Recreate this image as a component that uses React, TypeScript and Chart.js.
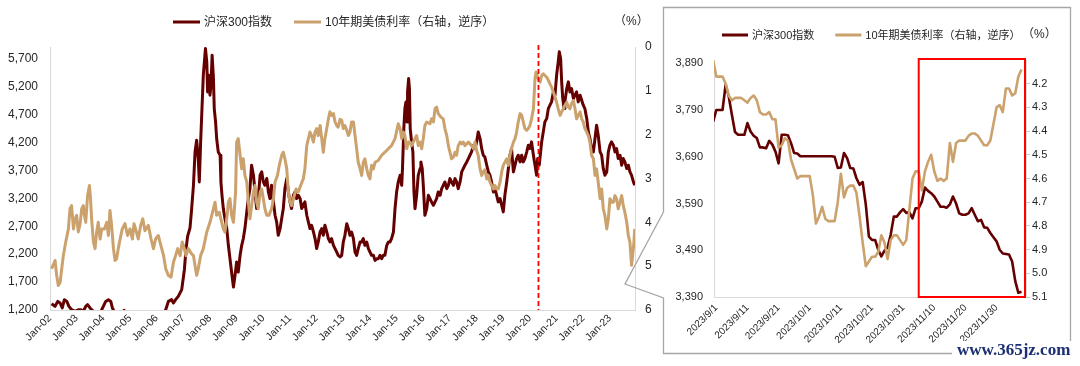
import { useEffect, useRef } from 'react';
import { Chart, registerables } from 'chart.js';

Chart.register(...registerables);

// ---------------- long view (2002 - 2023), x = decimal year ----------------
const csiYears = [
  2002.06, 2002.19, 2002.29, 2002.38, 2002.46, 2002.54, 2002.63, 2002.71, 2002.81, 2002.94,
  2003.06, 2003.16, 2003.25, 2003.34, 2003.41, 2003.5, 2003.63, 2003.75, 2003.88, 2004.0,
  2004.09, 2004.19, 2004.28, 2004.34, 2004.44, 2004.56, 2004.7, 2004.78, 2004.86, 2005.2,
  2005.6, 2006.0, 2006.25, 2006.34, 2006.44, 2006.56, 2006.63, 2006.71, 2006.81, 2006.94,
  2007.04, 2007.1, 2007.16, 2007.25, 2007.31, 2007.38, 2007.44, 2007.5, 2007.56, 2007.6,
  2007.65, 2007.7, 2007.75, 2007.79, 2007.83, 2007.88, 2007.91, 2007.96, 2008.0, 2008.04,
  2008.08, 2008.13, 2008.16, 2008.21, 2008.25, 2008.31, 2008.38, 2008.41, 2008.45, 2008.5,
  2008.56, 2008.63, 2008.69, 2008.75, 2008.81, 2008.88, 2008.94, 2009.0, 2009.06, 2009.13,
  2009.19, 2009.25, 2009.31, 2009.38, 2009.44, 2009.5, 2009.56, 2009.63, 2009.69, 2009.75,
  2009.81, 2009.88, 2009.94, 2010.0, 2010.06, 2010.13, 2010.19, 2010.25, 2010.31, 2010.38,
  2010.44, 2010.5, 2010.56, 2010.63, 2010.69, 2010.75, 2010.81, 2010.88, 2010.94, 2011.0,
  2011.06, 2011.13, 2011.19, 2011.25, 2011.31, 2011.38, 2011.44, 2011.5, 2011.56, 2011.63,
  2011.69, 2011.75, 2011.81, 2011.88, 2011.94, 2012.0, 2012.06, 2012.13, 2012.19, 2012.25,
  2012.31, 2012.38, 2012.44, 2012.5, 2012.56, 2012.63, 2012.69, 2012.75, 2012.81, 2012.88,
  2012.94, 2013.0, 2013.06, 2013.13, 2013.19, 2013.25, 2013.31, 2013.38, 2013.44, 2013.5,
  2013.56, 2013.63, 2013.69, 2013.75, 2013.81, 2013.88, 2013.94, 2014.0, 2014.06, 2014.13,
  2014.19, 2014.25, 2014.31, 2014.38, 2014.44, 2014.5, 2014.56, 2014.63, 2014.69, 2014.75,
  2014.81, 2014.88, 2014.94, 2015.0, 2015.06, 2015.13, 2015.19, 2015.22, 2015.27, 2015.31,
  2015.35, 2015.39, 2015.41, 2015.45, 2015.48, 2015.51, 2015.56, 2015.61, 2015.65, 2015.69,
  2015.75, 2015.81, 2015.88, 2015.91, 2015.96, 2016.0, 2016.06, 2016.13, 2016.19, 2016.25,
  2016.31, 2016.38, 2016.44, 2016.5, 2016.56, 2016.63, 2016.69, 2016.75, 2016.81, 2016.88,
  2016.94, 2017.0, 2017.06, 2017.13, 2017.19, 2017.25, 2017.31, 2017.38, 2017.44, 2017.5,
  2017.56, 2017.63, 2017.69, 2017.75, 2017.81, 2017.88, 2017.94, 2018.0, 2018.06, 2018.13,
  2018.19, 2018.25, 2018.31, 2018.38, 2018.44, 2018.5, 2018.56, 2018.63, 2018.69, 2018.75,
  2018.81, 2018.88, 2018.94, 2019.0, 2019.06, 2019.13, 2019.19, 2019.25, 2019.31, 2019.38,
  2019.44, 2019.5, 2019.56, 2019.63, 2019.69, 2019.75, 2019.81, 2019.88, 2019.94, 2020.0,
  2020.06, 2020.13, 2020.19, 2020.25, 2020.29, 2020.35, 2020.4, 2020.44, 2020.5, 2020.56,
  2020.63, 2020.69, 2020.75, 2020.81, 2020.88, 2020.94, 2021.0, 2021.06, 2021.1, 2021.15,
  2021.19, 2021.23, 2021.28, 2021.31, 2021.38, 2021.44, 2021.5, 2021.56, 2021.63, 2021.69,
  2021.75, 2021.81, 2021.88, 2021.94, 2022.0, 2022.06, 2022.13, 2022.19, 2022.25, 2022.31,
  2022.38, 2022.44, 2022.5, 2022.56, 2022.63, 2022.69, 2022.75, 2022.81, 2022.88, 2022.94,
  2023.0, 2023.06, 2023.13, 2023.19, 2023.25, 2023.31, 2023.38, 2023.44, 2023.5, 2023.56,
  2023.63, 2023.69, 2023.75, 2023.81, 2023.88, 2023.93,
];
const csiValues = [
  1313, 1265, 1354, 1325, 1236, 1385, 1354, 1265, 1205, 1176,
  1205, 1205, 1176, 1265, 1295, 1236, 1176, 1116, 1146, 1265,
  1354, 1385, 1354, 1236, 1146, 1026, 1100, 1195, 1080, 950,
  880, 960, 1120, 1205, 1354, 1385, 1325, 1385, 1444, 1564,
  1922, 2280, 2519, 2668, 2997, 3434, 4031, 4241, 3912, 3494,
  4211, 4808, 5405, 5644, 5883, 5644, 5106, 5405, 5047, 5226,
  5764, 5346, 4808, 4569, 4271, 4031, 3972, 3494, 3255, 3016,
  2837, 2658, 2359, 2120, 1881, 1612, 1822, 2060, 1881, 2180,
  2359, 2479, 2658, 2957, 3196, 3375, 3793, 3614, 3315, 3016,
  3196, 3614, 3674, 3494, 3434, 3554, 3315, 3196, 3434, 3136,
  2897, 2778, 2539, 2658, 2837, 3016, 3375, 3554, 3315, 3136,
  3016, 3255, 3315, 3196, 3255, 3196, 3016, 3076, 3136, 2897,
  2778, 2658, 2718, 2599, 2479, 2300, 2419, 2599, 2658, 2539,
  2718, 2599, 2479, 2419, 2479, 2359, 2300, 2240, 2180, 2150,
  2179, 2418, 2537, 2746, 2657, 2537, 2597, 2478, 2239, 2179,
  2298, 2418, 2418, 2478, 2358, 2418, 2298, 2239, 2179, 2179,
  2089, 2119, 2119, 2179, 2119, 2179, 2179, 2358, 2418, 2418,
  2478, 2597, 3015, 3314, 3493, 3612, 3433, 3732, 4449, 4807,
  4926, 4568, 5106, 5345, 5166, 4449, 4210, 4031, 3314, 3015,
  3254, 3612, 3732, 3851, 3732, 3433, 2896, 3015, 3254, 3194,
  3135, 3075, 3135, 3194, 3314, 3254, 3373, 3433, 3493, 3373,
  3433, 3553, 3493, 3433, 3553, 3493, 3373, 3493, 3672, 3732,
  3792, 3851, 3911, 3971, 4031, 4150, 4090, 4210, 4389, 4270,
  4090, 3971, 3940, 3793, 3673, 3614, 3494, 3315, 3375, 3255,
  3136, 3195, 3076, 2957, 3255, 3494, 3733, 3972, 4092, 3673,
  3793, 3912, 3972, 3853, 3972, 3853, 3912, 4032, 4151, 4092,
  4211, 3972, 3793, 3614, 3912, 3793, 4032, 4211, 4390, 4569,
  4629, 4808, 4868, 4927, 5106, 5047, 5405, 5644, 5823, 5704,
  5286, 4987, 4808, 4927, 5166, 5286, 5106, 5166, 4987, 5047,
  5106, 4927, 5047, 4957, 4868, 4808, 4629, 4390, 4271, 4092,
  4032, 4271, 4510, 4330, 4032, 3972, 3733, 3614, 3673, 4032,
  4151, 4211, 4151, 4032, 4092, 3912, 3972, 3793, 3912, 3853,
  3733, 3793, 3673, 3614, 3494, 3434,
];

const ustYears = [
  2002.06, 2002.19, 2002.25, 2002.31, 2002.38, 2002.44, 2002.5, 2002.59, 2002.69, 2002.75,
  2002.81, 2002.88, 2002.94, 2003.0, 2003.06, 2003.13, 2003.19, 2003.25, 2003.29, 2003.34,
  2003.41, 2003.48, 2003.52, 2003.56, 2003.63, 2003.69, 2003.75, 2003.81, 2003.88, 2003.94,
  2004.04, 2004.13, 2004.19, 2004.25, 2004.31, 2004.38, 2004.44, 2004.5, 2004.56, 2004.63,
  2004.71, 2004.81, 2004.91, 2005.0, 2005.09, 2005.15, 2005.21, 2005.31, 2005.4, 2005.48,
  2005.56, 2005.69, 2005.79, 2005.88, 2005.96, 2006.06, 2006.16, 2006.26, 2006.34, 2006.44,
  2006.54, 2006.63, 2006.71, 2006.79, 2006.88, 2006.96, 2007.04, 2007.1, 2007.19, 2007.31,
  2007.38, 2007.5, 2007.56, 2007.65, 2007.75, 2007.88, 2008.0, 2008.13, 2008.19, 2008.25,
  2008.35, 2008.44, 2008.5, 2008.56, 2008.63, 2008.69, 2008.75, 2008.81, 2008.88, 2008.96,
  2009.0, 2009.06, 2009.13, 2009.19, 2009.25, 2009.31, 2009.38, 2009.44, 2009.5, 2009.56,
  2009.63, 2009.69, 2009.75, 2009.81, 2009.88, 2009.94, 2010.0, 2010.06, 2010.13, 2010.21,
  2010.31, 2010.38, 2010.44, 2010.53, 2010.6, 2010.69, 2010.75, 2010.81, 2010.88, 2010.94,
  2011.0, 2011.06, 2011.13, 2011.23, 2011.31, 2011.4, 2011.5, 2011.56, 2011.63, 2011.69,
  2011.75, 2011.81, 2011.88, 2011.94, 2012.0, 2012.06, 2012.13, 2012.19, 2012.25, 2012.31,
  2012.38, 2012.44, 2012.5, 2012.56, 2012.63, 2012.69, 2012.75, 2012.81, 2012.88, 2012.94,
  2013.0, 2013.06, 2013.13, 2013.19, 2013.25, 2013.31, 2013.38, 2013.44, 2013.5, 2013.56,
  2013.63, 2013.69, 2013.75, 2013.81, 2013.88, 2013.94, 2014.0, 2014.06, 2014.13, 2014.19,
  2014.31, 2014.44, 2014.56, 2014.69, 2014.81, 2014.94, 2015.06, 2015.13, 2015.19, 2015.25,
  2015.31, 2015.38, 2015.44, 2015.5, 2015.56, 2015.69, 2015.75, 2015.81, 2015.88, 2015.94,
  2016.0, 2016.06, 2016.13, 2016.25, 2016.31, 2016.38, 2016.44, 2016.5, 2016.56, 2016.66,
  2016.75, 2016.81, 2016.88, 2016.94, 2017.0, 2017.06, 2017.13, 2017.19, 2017.25, 2017.31,
  2017.38, 2017.44, 2017.5, 2017.56, 2017.69, 2017.81, 2017.88, 2017.94, 2018.0, 2018.06,
  2018.13, 2018.19, 2018.25, 2018.31, 2018.38, 2018.44, 2018.5, 2018.63, 2018.69, 2018.75,
  2018.81, 2018.88, 2018.94, 2019.0, 2019.06, 2019.13, 2019.19, 2019.25, 2019.31, 2019.38,
  2019.44, 2019.5, 2019.56, 2019.63, 2019.69, 2019.75, 2019.81, 2019.88, 2019.94, 2020.0,
  2020.06, 2020.13, 2020.19, 2020.23, 2020.31, 2020.38, 2020.44, 2020.5, 2020.56, 2020.63,
  2020.69, 2020.75, 2020.81, 2020.88, 2020.94, 2021.0, 2021.06, 2021.13, 2021.19, 2021.25,
  2021.31, 2021.38, 2021.44, 2021.5, 2021.56, 2021.63, 2021.69, 2021.75, 2021.81, 2021.88,
  2021.94, 2022.0, 2022.06, 2022.13, 2022.19, 2022.25, 2022.31, 2022.38, 2022.44, 2022.5,
  2022.56, 2022.63, 2022.69, 2022.75, 2022.81, 2022.88, 2022.94, 2023.0, 2023.06, 2023.13,
  2023.19, 2023.25, 2023.31, 2023.38, 2023.44, 2023.5, 2023.56, 2023.63, 2023.69, 2023.75,
  2023.81, 2023.85, 2023.9, 2023.93,
];
const ustValues = [
  5.06, 4.87, 5.21, 5.44, 5.37, 5.06, 4.76, 4.45, 4.15, 3.69,
  3.62, 4.15, 3.92, 3.84, 4.22, 4.03, 3.69, 3.62, 3.84, 4.0,
  3.39, 3.16, 3.46, 3.92, 4.45, 4.6, 4.22, 4.0, 4.38, 4.15,
  4.15, 4.0, 4.3, 3.73, 4.07, 4.6, 4.87, 4.83, 4.6, 4.38,
  4.15, 4.03, 4.3, 4.15, 4.38, 4.03, 4.15, 4.38, 4.07, 3.92,
  4.19, 4.07, 4.38, 4.6, 4.38, 4.3, 4.53, 4.76, 5.06, 5.21,
  5.25, 4.91, 4.76, 4.6, 4.76, 4.45, 4.6, 4.76, 4.6, 4.72,
  4.76, 5.21, 5.06, 4.76, 4.6, 4.22, 4.0, 3.69, 3.54, 3.84,
  3.77, 4.0, 4.15, 4.22, 3.92, 3.54, 3.46, 3.84, 4.0, 3.31,
  2.17, 2.09, 2.47, 2.78, 2.55, 2.93, 3.08, 3.54, 3.92, 3.62,
  3.31, 3.16, 3.54, 3.69, 3.31, 3.24, 3.46, 3.69, 3.84, 3.84,
  3.69, 3.46, 3.08, 2.93, 2.7, 2.47, 2.4, 2.55, 2.78, 3.31,
  3.54, 3.62, 3.46, 3.24, 3.31, 3.16, 3.01, 2.78, 2.25, 2.09,
  1.94, 2.02, 2.17, 1.94, 1.86, 2.02, 1.79, 2.09, 2.4, 2.09,
  1.86, 1.64, 1.48, 1.56, 1.52, 1.71, 1.79, 1.83, 1.65, 1.67,
  1.86, 1.79, 1.9, 2.02, 1.94, 1.71, 1.71, 2.02, 2.32, 2.63,
  2.78, 2.93, 2.63, 2.55, 2.78, 2.93, 3.01, 2.7, 2.78, 2.63,
  2.59, 2.47, 2.4, 2.32, 2.25, 2.09, 1.75, 1.86, 2.09, 1.94,
  2.02, 2.32, 2.17, 2.17, 2.25, 2.09, 2.02, 2.25, 2.17, 2.32,
  2.09, 1.79, 1.71, 1.75, 1.64, 1.71, 1.41, 1.37, 1.52, 1.6,
  1.64, 1.86, 2.02, 2.25, 2.4, 2.55, 2.51, 2.4, 2.47, 2.25,
  2.17, 2.21, 2.17, 2.25, 2.17, 2.25, 2.32, 2.17, 2.36, 2.47,
  2.78, 2.93, 2.85, 2.8, 3.01, 2.93, 3.08, 3.24, 3.16, 3.24,
  3.24, 3.08, 2.85, 2.7, 2.63, 2.55, 2.7, 2.47, 2.32, 2.17,
  2.09, 1.94, 1.71, 1.52, 1.56, 1.71, 1.86, 1.9, 1.86, 1.79,
  1.64, 1.41, 0.72, 0.57, 0.72, 0.8, 0.65, 0.61, 0.65, 0.69,
  0.76, 0.84, 0.91, 1.03, 1.14, 1.26, 1.41, 1.56, 1.48, 1.41,
  1.33, 1.26, 1.37, 1.41, 1.29, 1.22, 1.41, 1.64, 1.56, 1.48,
  1.64, 1.71, 1.86, 1.94, 2.02, 2.17, 2.47, 2.55, 2.93, 2.78,
  3.08, 3.46, 3.24, 3.69, 3.84, 4.15, 3.92, 3.46, 3.54, 3.54,
  3.39, 3.46, 3.69, 3.54, 3.39, 3.62, 3.77, 4.0, 4.3, 4.45,
  4.98, 4.76, 4.45, 4.15,
];

const yearTicks = [
  2002, 2003, 2004, 2005, 2006, 2007, 2008, 2009, 2010, 2011, 2012,
  2013, 2014, 2015, 2016, 2017, 2018, 2019, 2020, 2021, 2022, 2023,
];
const yearTickLabels = [
  'Jan-02', 'Jan-03', 'Jan-04', 'Jan-05', 'Jan-06', 'Jan-07', 'Jan-08', 'Jan-09', 'Jan-10', 'Jan-11', 'Jan-12',
  'Jan-13', 'Jan-14', 'Jan-15', 'Jan-16', 'Jan-17', 'Jan-18', 'Jan-19', 'Jan-20', 'Jan-21', 'Jan-22', 'Jan-23',
];
const csiAxisTicks = [1200, 1700, 2200, 2700, 3200, 3700, 4200, 4700, 5200, 5700];
const ustAxisTicks = [0, 1, 2, 3, 4, 5, 6];
const markerYear = 2020.32;

// ---------------- zoom view (2023-08-31 .. 2023-12-08), daily ----------------
const zoomFirstDay = -1; // day 0 = 2023/9/1
const zoomCsi = [
  3765, 3790, 3790, 3790, 3844, 3819, 3780, 3743, 3737, 3737,
  3737, 3762, 3744, 3735, 3730, 3710, 3710, 3708, 3724, 3716,
  3701, 3676, 3737, 3737, 3736, 3719, 3698, 3697, 3691, 3691,
  3691, 3691, 3691, 3691, 3691, 3691, 3691, 3691, 3691, 3690,
  3666, 3667, 3698, 3687, 3666, 3665, 3644, 3630, 3636, 3588,
  3519, 3512, 3512, 3491, 3477, 3489, 3496, 3523, 3562, 3562,
  3571, 3578, 3570, 3571, 3558, 3580, 3580, 3594, 3624, 3617,
  3612, 3605, 3594, 3583, 3583, 3581, 3588, 3605, 3590, 3569,
  3566, 3566, 3569, 3580, 3566, 3552, 3555, 3539, 3538, 3527,
  3518, 3509, 3491, 3483, 3482, 3481, 3466, 3424, 3399, 3401,
];
const zoomUst = [
  4.10, 4.17, 4.17, 4.17, 4.20, 4.25, 4.27, 4.26, 4.26, 4.26,
  4.27, 4.28, 4.26, 4.25, 4.27, 4.32, 4.33, 4.33, 4.32, 4.35,
  4.35, 4.47, 4.46, 4.43, 4.44, 4.52, 4.56, 4.60, 4.59, 4.59,
  4.59, 4.59, 4.67, 4.79, 4.76, 4.72, 4.77, 4.78, 4.78, 4.78,
  4.70, 4.58, 4.68, 4.64, 4.63, 4.63, 4.66, 4.76, 4.87, 4.97,
  4.95, 4.93, 4.93, 4.91, 4.84, 4.87, 4.94, 4.86, 4.84, 4.84,
  4.86, 4.88, 4.86, 4.73, 4.60, 4.57, 4.57, 4.65, 4.57, 4.53,
  4.50, 4.57, 4.61, 4.60, 4.61, 4.60, 4.45, 4.53, 4.45, 4.44,
  4.44, 4.44, 4.42, 4.41, 4.41, 4.42, 4.44, 4.46, 4.46, 4.44,
  4.37, 4.30, 4.29, 4.32, 4.22, 4.22, 4.25, 4.24, 4.17, 4.14,
];
const zoomDayTicks = [0, 10, 20, 30, 40, 50, 60, 70, 80, 90];
const zoomDayTickLabels = [
  '2023/9/1', '2023/9/11', '2023/9/21', '2023/10/1', '2023/10/11',
  '2023/10/21', '2023/10/31', '2023/11/10', '2023/11/20', '2023/11/30',
];
const zoomCsiTicks = [3390, 3490, 3590, 3690, 3790, 3890];
const zoomUstTicks = [4.2, 4.3, 4.4, 4.5, 4.6, 4.7, 4.8, 4.9, 5.0, 5.1];
const zoomHighlightStartDay = 65;

const seriesNames = ['沪深300指数', '10年期美债利率（右轴，逆序）'];
const unitLabel = '（%）';

// ---------------- styling ----------------
const DARK = '#640000';
const TAN = '#CBA26D';
const AXIS_LINE = '#d9d9d9';
const TEXT = '#262626';
const FONT = '"Liberation Sans", Arial, "Noto Sans CJK SC", sans-serif';

const legendPlugin = {
  id: 'lineLegend',
  afterDraw(chart: any, _args: any, opts: any) {
    const ctx = chart.ctx;
    ctx.save();
    ctx.font = `${opts.size}px ${FONT}`;
    ctx.textBaseline = 'middle';
    ctx.textAlign = 'left';
    let x = opts.x;
    chart.data.datasets.forEach((ds: any) => {
      ctx.fillStyle = ds.borderColor;
      ctx.fillRect(x, opts.y - opts.lineWidth / 2, opts.boxWidth, opts.lineWidth);
      x += opts.boxWidth + opts.gap;
      ctx.fillStyle = TEXT;
      ctx.fillText(ds.label, x, opts.y + 0.5);
      x += ctx.measureText(ds.label).width + opts.itemGap;
    });
    ctx.fillStyle = TEXT;
    ctx.font = `${opts.unitSize}px ${FONT}`;
    ctx.fillText(unitLabel, opts.unitX, opts.unitY);
    ctx.restore();
  },
};

const markerPlugin = {
  id: 'yearMarker',
  afterDatasetsDraw(chart: any, _args: any, opts: any) {
    if (opts.value === undefined || opts.value === null) return;
    const ctx = chart.ctx;
    const x = chart.scales.x.getPixelForValue(opts.value);
    const { top, bottom } = chart.chartArea;
    ctx.save();
    ctx.strokeStyle = '#FF0000';
    ctx.lineWidth = 1.8;
    ctx.setLineDash([5, 3]);
    ctx.beginPath();
    ctx.moveTo(x, top - 2);
    ctx.lineTo(x, bottom);
    ctx.stroke();
    ctx.restore();
  },
};

const highlightPlugin = {
  id: 'highlightBox',
  afterDatasetsDraw(chart: any, _args: any, opts: any) {
    if (opts.startDay === undefined || opts.startDay === null) return;
    const ctx = chart.ctx;
    const x0 = chart.scales.x.getPixelForValue(opts.startDay);
    const { top, bottom, right } = chart.chartArea;
    ctx.save();
    ctx.strokeStyle = '#FF0000';
    ctx.lineWidth = 2;
    ctx.strokeRect(x0, top - 1, right - 1 - x0, bottom - top + 1);
    ctx.restore();
  },
};

function tickFont(size: number) {
  return { family: FONT, size };
}

function LongChart() {
  const ref = useRef<HTMLCanvasElement>(null);
  useEffect(() => {
    const chart = new Chart(ref.current as HTMLCanvasElement, {
      type: 'line',
      data: {
        datasets: [
          {
            label: seriesNames[0],
            data: csiYears.map((t, i) => ({ x: t, y: csiValues[i] })),
            borderColor: DARK,
            backgroundColor: DARK,
            borderWidth: 3,
            pointRadius: 0,
            tension: 0,
            borderJoinStyle: 'round',
            yAxisID: 'y',
            order: 1,
          },
          {
            label: seriesNames[1],
            data: ustYears.map((t, i) => ({ x: t, y: ustValues[i] })),
            borderColor: TAN,
            backgroundColor: TAN,
            borderWidth: 3,
            pointRadius: 0,
            tension: 0,
            borderJoinStyle: 'round',
            yAxisID: 'y1',
            order: 0,
          },
        ],
      },
      options: {
        animation: false,
        responsive: false,
        maintainAspectRatio: false,
        devicePixelRatio: 1,
        layout: { padding: { top: 47, left: 0, right: 0, bottom: 0 } },
        plugins: {
          legend: { display: false },
          tooltip: { enabled: false },
          lineLegend: {
            x: 173, y: 22, boxWidth: 27, lineWidth: 3, gap: 4, itemGap: 22, size: 12,
            unitX: 614, unitY: 22, unitSize: 12,
          },
          yearMarker: { value: markerYear },
        },
        scales: {
          x: {
            type: 'linear',
            min: 2002,
            max: 2023.94,
            afterBuildTicks: (axis: any) => {
              axis.ticks = yearTicks.map((v) => ({ value: v }));
            },
            afterFit: (axis: any) => {
              axis.height = 56;
            },
            ticks: {
              autoSkip: false,
              minRotation: 45,
              maxRotation: 45,
              padding: 2,
              color: TEXT,
              font: tickFont(10.5),
              callback: (_v: any, i: number) => yearTickLabels[i],
            },
            grid: { display: false, drawTicks: false },
            border: { color: AXIS_LINE, width: 1 },
          },
          y: {
            position: 'left',
            min: 1200,
            max: 5910,
            afterBuildTicks: (axis: any) => {
              axis.ticks = csiAxisTicks.map((v) => ({ value: v }));
            },
            afterFit: (axis: any) => {
              axis.width = 50;
            },
            ticks: {
              padding: 12,
              color: TEXT,
              font: tickFont(12),
              callback: (v: any) => Number(v).toLocaleString('en-US'),
            },
            grid: { display: false, drawTicks: false },
            border: { color: AXIS_LINE, width: 1 },
          },
          y1: {
            position: 'right',
            reverse: true,
            min: 0,
            max: 6,
            afterBuildTicks: (axis: any) => {
              axis.ticks = ustAxisTicks.map((v) => ({ value: v }));
            },
            afterFit: (axis: any) => {
              axis.width = 25;
            },
            ticks: {
              padding: 10,
              color: TEXT,
              font: tickFont(12),
              callback: (v: any) => String(v),
            },
            grid: { display: false, drawTicks: false },
            border: { color: AXIS_LINE, width: 1 },
          },
        },
      },
      plugins: [legendPlugin, markerPlugin],
    } as any);
    return () => chart.destroy();
  }, []);
  return (
    <canvas
      ref={ref}
      width={660}
      height={366}
      style={{ position: 'absolute', left: 0, top: 0, width: 660, height: 366 }}
    />
  );
}

function ZoomChart() {
  const ref = useRef<HTMLCanvasElement>(null);
  useEffect(() => {
    const chart = new Chart(ref.current as HTMLCanvasElement, {
      type: 'line',
      data: {
        datasets: [
          {
            label: seriesNames[0],
            data: zoomCsi.map((v, i) => ({ x: zoomFirstDay + i, y: v })),
            borderColor: DARK,
            backgroundColor: DARK,
            borderWidth: 2.6,
            pointRadius: 0,
            tension: 0,
            borderJoinStyle: 'round',
            yAxisID: 'y',
            order: 1,
          },
          {
            label: seriesNames[1],
            data: zoomUst.map((v, i) => ({ x: zoomFirstDay + i, y: v })),
            borderColor: TAN,
            backgroundColor: TAN,
            borderWidth: 2.6,
            pointRadius: 0,
            tension: 0,
            borderJoinStyle: 'round',
            yAxisID: 'y1',
            order: 0,
          },
        ],
      },
      options: {
        animation: false,
        responsive: false,
        maintainAspectRatio: false,
        devicePixelRatio: 1,
        layout: { padding: { top: 60, left: 0, right: 0, bottom: 0 } },
        plugins: {
          legend: { display: false },
          tooltip: { enabled: false },
          lineLegend: {
            x: 58, y: 35, boxWidth: 26, lineWidth: 3, gap: 4, itemGap: 21, size: 11,
            unitX: 358, unitY: 35, unitSize: 12,
          },
          highlightBox: { startDay: zoomHighlightStartDay },
        },
        scales: {
          x: {
            type: 'linear',
            min: -0.74,
            max: 99.45,
            afterBuildTicks: (axis: any) => {
              axis.ticks = zoomDayTicks.map((v) => ({ value: v }));
            },
            afterFit: (axis: any) => {
              axis.height = 69;
            },
            ticks: {
              autoSkip: false,
              minRotation: 45,
              maxRotation: 45,
              padding: 5,
              color: TEXT,
              font: tickFont(10),
              callback: (_v: any, i: number) => zoomDayTickLabels[i],
            },
            grid: { display: false, drawTicks: false },
            border: { color: AXIS_LINE, width: 1 },
          },
          y: {
            position: 'left',
            min: 3390,
            max: 3897,
            afterBuildTicks: (axis: any) => {
              axis.ticks = zoomCsiTicks.map((v) => ({ value: v }));
            },
            afterFit: (axis: any) => {
              axis.width = 50;
            },
            ticks: {
              padding: 11,
              color: TEXT,
              font: tickFont(11),
              callback: (v: any) => Number(v).toLocaleString('en-US'),
            },
            grid: { display: false, drawTicks: false },
            border: { color: AXIS_LINE, width: 1 },
          },
          y1: {
            position: 'right',
            reverse: true,
            min: 4.1,
            max: 5.1,
            afterBuildTicks: (axis: any) => {
              axis.ticks = zoomUstTicks.map((v) => ({ value: v }));
            },
            afterFit: (axis: any) => {
              axis.width = 54;
            },
            ticks: {
              padding: 2,
              color: TEXT,
              font: tickFont(11),
              callback: (v: any) => Number(v).toFixed(1),
            },
            grid: {
              display: true,
              drawOnChartArea: false,
              drawTicks: true,
              tickLength: 4,
              color: '#c8c8c8',
            },
            border: { color: AXIS_LINE, width: 1 },
          },
        },
      },
      plugins: [legendPlugin, highlightPlugin],
    } as any);
    return () => chart.destroy();
  }, []);
  return (
    <canvas
      ref={ref}
      width={416}
      height={366}
      style={{ position: 'absolute', left: 664, top: 0, width: 416, height: 366 }}
    />
  );
}

export default function App() {
  return (
    <div
      style={{
        position: 'fixed',
        left: 0,
        top: 0,
        width: 1080,
        height: 366,
        background: '#ffffff',
        overflow: 'hidden',
      }}
    >
      <LongChart />
      <ZoomChart />
      <svg
        width={1080}
        height={366}
        style={{ position: 'absolute', left: 0, top: 0, pointerEvents: 'none' }}
      >
        <polyline
          points="663.5,212 663.5,7.5 1070.5,7.5 1070.5,353.5 663.5,353.5 663.5,298 625,284 663.5,212"
          fill="none"
          stroke="#a6a6a6"
          strokeWidth={1.3}
          strokeLinejoin="miter"
        />
      </svg>
      <div
        style={{
          position: 'absolute',
          left: 952,
          top: 341,
          paddingLeft: 5,
          paddingRight: 8,
          height: 25,
          lineHeight: '17px',
          background: '#ffffff',
          color: '#1b2f72',
          fontFamily: '"Liberation Serif", "DejaVu Serif", serif',
          fontWeight: 'bold',
          fontSize: 17,
          whiteSpace: 'nowrap',
        }}
      >
        www.365jz.com
      </div>
    </div>
  );
}
